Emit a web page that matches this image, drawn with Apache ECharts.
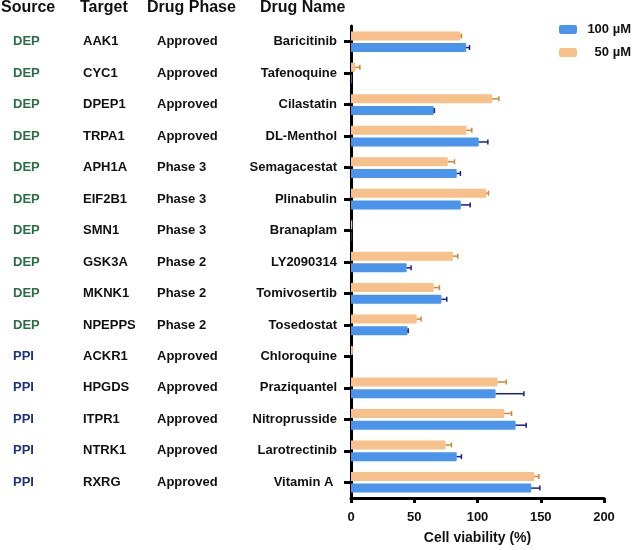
<!DOCTYPE html>
<html>
<head>
<meta charset="utf-8">
<script src="https://cdn.jsdelivr.net/npm/echarts@6/dist/echarts.min.js"></script>
<style>html,body{margin:0;padding:0;background:#fff}#c{width:633px;height:550px}</style>
</head>
<body>
<div id="c"></div>
<script>
var drugs = ['Baricitinib','Tafenoquine','Cilastatin','DL-Menthol','Semagacestat','Plinabulin','Branaplam','LY2090314','Tomivosertib','Tosedostat','Chloroquine','Praziquantel','Nitroprusside','Larotrectinib','Vitamin A '];
var sources = ['DEP','DEP','DEP','DEP','DEP','DEP','DEP','DEP','DEP','DEP','PPI','PPI','PPI','PPI','PPI'];
var targets = ['AAK1','CYC1','DPEP1','TRPA1','APH1A','EIF2B1','SMN1','GSK3A','MKNK1','NPEPPS','ACKR1','HPGDS','ITPR1','NTRK1','RXRG'];
var phases = ['Approved','Approved','Approved','Approved','Phase 3','Phase 3','Phase 3','Phase 2','Phase 2','Phase 2','Approved','Approved','Approved','Approved','Approved'];
var v50 = [86.3, 3.4, 111.6, 91.3, 76.5, 106.9, 1.0, 80.5, 65.4, 52.0, 1.5, 115.8, 121.1, 74.7, 144.9];
var e50 = [1.0, 3.6, 5.3, 4.2, 5.3, 1.8, 0, 3.9, 4.5, 3.4, 0, 6.9, 5.8, 4.7, 3.6];
var v100 = [91.0, 0.5, 65.4, 101.0, 83.6, 86.8, 0.3, 44.0, 71.5, 44.6, 0, 114.3, 130.1, 83.6, 142.5];
var e100 = [2.7, 0, 0.5, 7.2, 2.9, 7.4, 0, 3.5, 4.2, 0.6, 0, 22.4, 8.4, 3.7, 6.8];
var xTicks = [0, 50, 100, 150, 200];
var headers = ['Source','Target','Drug Phase','Drug Name'];
var legendNames = ['100 µM','50 µM'];

var FONT = 'Arial, "Liberation Sans", Helvetica, sans-serif';
var BLUE = '#4a94ec', ORANGE = '#f8c08a';
var BLUE_ERR = '#1a1f8c', ORANGE_ERR = '#cf8734';
var BAR_W = 9, BAR_GAP = 0.3;

function errData(v, e) { return v.map(function (m, i) { return [m, e[i], i]; }); }
function errRender(sign, color) {
  return function (params, api) {
    var m = api.value(0), e = api.value(1), ci = api.value(2);
    if (!(e > 0)) return null;
    var p0 = api.coord([m, ci]);
    var p1 = api.coord([m + e, ci]);
    var off = sign * (BAR_W / 2 + BAR_W * BAR_GAP / 2);
    var y = p0[1] + off;
    return {
      type: 'group',
      children: [
        { type: 'line', shape: { x1: p0[0], y1: y, x2: p1[0], y2: y }, style: { stroke: color, lineWidth: 1.5 } },
        { type: 'line', shape: { x1: p1[0], y1: y - 2.5, x2: p1[0], y2: y + 2.5 }, style: { stroke: color, lineWidth: 1.5 } }
      ]
    };
  };
}

function colAxis(data, margin, colorFn) {
  return {
    type: 'category', data: data, inverse: true, gridIndex: 0, position: 'left',
    axisLine: { show: false }, axisTick: { show: false }, splitLine: { show: false },
    axisLabel: { margin: margin, align: 'left', fontFamily: FONT, fontSize: 13, fontWeight: 'bold', color: colorFn || '#111' }
  };
}

var chart = echarts.init(document.getElementById('c'));
chart.setOption({
  animation: false,
  textStyle: { fontFamily: FONT },
  grid: { left: 351, right: 29, top: 26, bottom: 49 },
  legend: {
    data: legendNames, orient: 'vertical', left: 559, top: 23, padding: 0, itemWidth: 18, itemHeight: 9, itemGap: 10,
    icon: 'roundRect',
    formatter: '{a|{name}}',
    textStyle: { rich: { a: { width: 49, align: 'right', fontFamily: FONT, fontSize: 13, fontWeight: 'bold', color: '#111' } } }
  },
  graphic: [
    { type: 'text', left: 1, top: 0, style: { text: headers[0], font: 'bold 16px ' + FONT, fill: '#111' } },
    { type: 'text', left: 80, top: 0, style: { text: headers[1], font: 'bold 16px ' + FONT, fill: '#111' } },
    { type: 'text', left: 147, top: 0, style: { text: headers[2], font: 'bold 16px ' + FONT, fill: '#111' } },
    { type: 'text', left: 260, top: 0, style: { text: headers[3], font: 'bold 16px ' + FONT, fill: '#111' } }
  ],
  xAxis: {
    type: 'value', min: xTicks[0], max: xTicks[xTicks.length - 1], interval: 50,
    name: 'Cell viability (%)', nameLocation: 'middle', nameGap: 33,
    nameTextStyle: { fontFamily: FONT, fontSize: 14, fontWeight: 'bold', color: '#111' },
    axisLine: { show: true, lineStyle: { color: '#000', width: 3 } },
    axisTick: { show: true, length: 5, lineStyle: { color: '#000', width: 3 } },
    axisLabel: { margin: 13, fontFamily: FONT, fontSize: 13, fontWeight: 'bold', color: '#111' },
    splitLine: { show: false }
  },
  yAxis: [
    {
      type: 'category', data: drugs, inverse: true, gridIndex: 0, position: 'left',
      axisLine: { show: true, onZero: false, lineStyle: { color: '#000', width: 3 } },
      axisTick: { show: true, alignWithLabel: true, length: 7, lineStyle: { color: '#000', width: 3 } },
      axisLabel: { margin: 14, fontFamily: FONT, fontSize: 13, fontWeight: 'bold', color: '#111' }
    },
    colAxis(sources, 338, function (v) { return v === 'DEP' ? '#2a6e45' : '#1b3383'; }),
    colAxis(targets, 268),
    colAxis(phases, 194)
  ],
  series: [
    { name: legendNames[1], type: 'bar', yAxisIndex: 0, data: v50, barWidth: BAR_W, barGap: '30%', itemStyle: { color: ORANGE, borderRadius: [0, 1, 1, 0] }, z: 2 },
    { name: legendNames[0], type: 'bar', yAxisIndex: 0, data: v100, barWidth: BAR_W, barGap: '30%', itemStyle: { color: BLUE, borderRadius: [0, 1, 1, 0] }, z: 2 },
    { type: 'custom', yAxisIndex: 0, data: errData(v50, e50), encode: { x: [0, 1], y: 2 }, renderItem: errRender(-1, ORANGE_ERR), z: 3, silent: true },
    { type: 'custom', yAxisIndex: 0, data: errData(v100, e100), encode: { x: [0, 1], y: 2 }, renderItem: errRender(1, BLUE_ERR), z: 3, silent: true }
  ]
});
</script>
</body>
</html>
